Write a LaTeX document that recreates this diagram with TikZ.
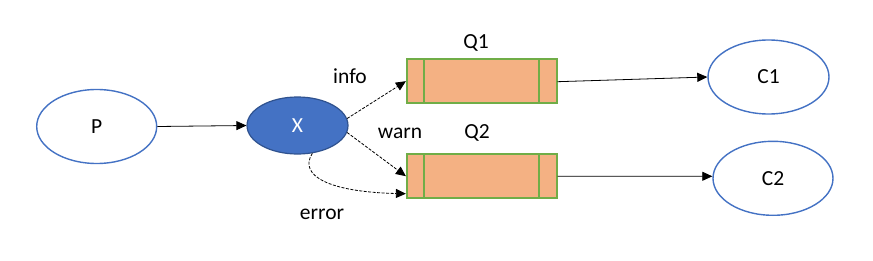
\documentclass[tikz,border=0pt]{standalone}
\usepackage{fontspec}
\setmainfont{Carlito}
\usetikzlibrary{shapes.geometric,arrows.meta}
\definecolor{xblue}{HTML}{4472C4}
\definecolor{xblueline}{HTML}{2F528F}
\definecolor{qfill}{HTML}{F4B183}
\definecolor{qline}{HTML}{70AD47}
\begin{document}
\begin{tikzpicture}[x=1pt,y=-1pt,font=\fontsize{21.5}{25}\selectfont,
  ell/.style={ellipse,draw=xblue,line width=1.4pt,fill=white,inner sep=0pt,minimum width=120pt,minimum height=74pt},
  xell/.style={ellipse,draw=xblueline,line width=1.2pt,fill=xblue,text=white,inner sep=0pt,minimum width=101pt,minimum height=57pt},
  queue/.style={rectangle,draw=qline,line width=1.6pt,fill=qfill,minimum width=150pt,minimum height=44pt,inner sep=0pt},
  lbl/.style={inner sep=0pt},
  arr/.style={-{Triangle[length=10pt,width=9pt]},line width=0.8pt,black},
  darr/.style={-{Triangle[length=10pt,width=9pt]},line width=0.8pt,black,dash pattern=on 3pt off 1.5pt}]
\useasboundingbox (0,0) rectangle (873,260);
\node[ell] (P) at (96.7,126.5) {P};
\node[xell] (X) at (297.5,125.5) {X};
\node[queue] (Q1) at (481.7,81.2) {};
\node[queue] (Q2) at (481.7,176.2) {};
\foreach \q in {Q1,Q2}{
  \draw[qline,line width=1.6pt] ([xshift=18.3pt]\q.north west) -- ([xshift=18.3pt]\q.south west);
  \draw[qline,line width=1.6pt] ([xshift=-18.3pt]\q.north east) -- ([xshift=-18.3pt]\q.south east);
}
\node[ell,minimum width=121pt] (C1) at (768.5,77) {C1};
\node[ell] (C2) at (773,178.3) {C2};
\node[lbl] (q1l) at (476,43) {Q1};
\node[lbl] (q2l) at (477,133) {Q2};
\node[lbl] (info) at (350,76) {info};
\node[lbl] (warn) at (400,133) {warn};
\node[lbl] (error) at (322,214) {error};
\draw[arr] (P.east) -- (X.west);
\draw[arr] ([yshift=-0.5pt]Q1.east) -- (C1.west);
\draw[arr] (Q2.east) -- ([yshift=2pt]C2.west);
\draw[darr] (X.8) -- (Q1.west);
\draw[darr] (X.-8) -- (Q2.west);
\draw[darr] (X.-62) .. controls (298,176) and (330,192) .. ([yshift=-17.5pt]Q2.west);
\end{tikzpicture}
\end{document}
